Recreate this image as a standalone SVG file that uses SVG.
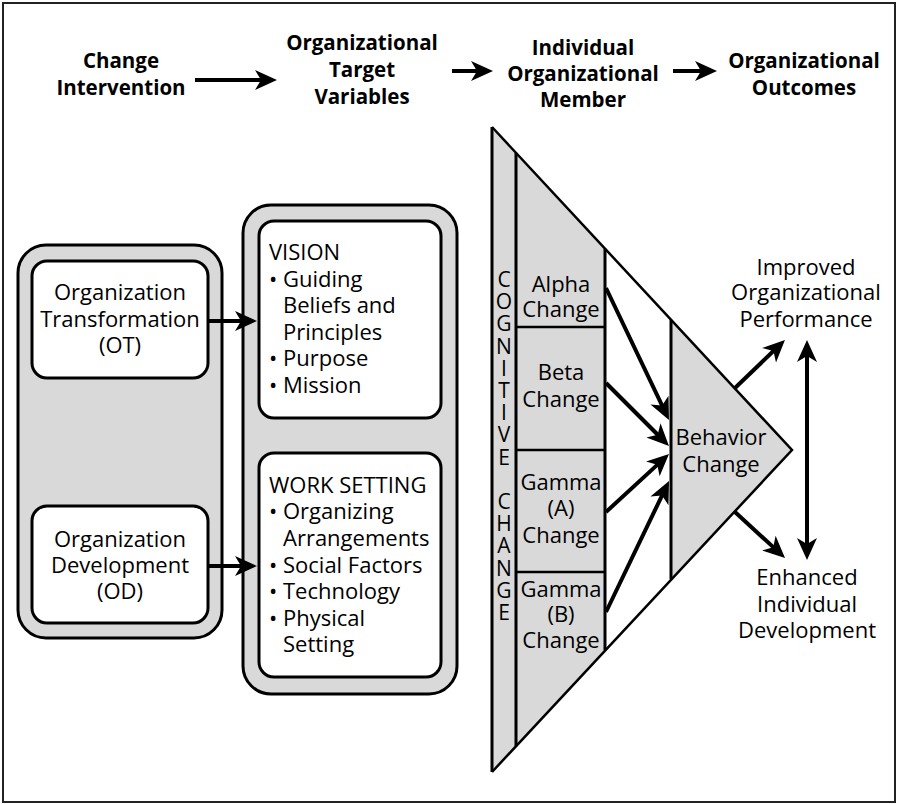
<svg xmlns="http://www.w3.org/2000/svg" width="897" height="804" viewBox="0 0 897 804">
<style>
.hd{font-family:"Open Sans","Liberation Sans",sans-serif;font-weight:700;font-size:20.5px;text-anchor:middle;fill:#000}
.tx{font-family:"Open Sans","Liberation Sans",sans-serif;font-size:22px;fill:#000}
.c{text-anchor:middle}
.outer{fill:#d9d9d9;stroke:#000;stroke-width:3}
.inner{fill:#fff;stroke:#000;stroke-width:3}
.gray{fill:#d9d9d9;stroke:none}
.edge{stroke:#000;stroke-width:2.5;fill:none}
.vline{stroke:#000;stroke-width:3;fill:none}
.arr{stroke:#000;stroke-width:4;fill:none;marker-end:url(#ah)}
.vert{font-family:"Open Sans","Liberation Sans",sans-serif;font-size:21px;fill:#000;writing-mode:vertical-rl;text-orientation:upright;letter-spacing:-5.8px}
</style>
<defs>
<marker id="ah" markerUnits="userSpaceOnUse" markerWidth="30" markerHeight="26" viewBox="-12 -13 30 26" refX="0" refY="0" orient="auto-start-reverse">
<path d="M12,0 L-10,-10 L-4,0 L-10,10 Z" fill="#000"/>
</marker>
</defs>
<rect x="3" y="3" width="892" height="799" fill="#fff" stroke="#222" stroke-width="2"/>

<g id="header">
<text class="hd"><tspan x="121" y="68">Change</tspan><tspan x="121" y="95">Intervention</tspan></text>
<text class="hd"><tspan x="362" y="50">Organizational</tspan><tspan x="362" y="77">Target</tspan><tspan x="362" y="104">Variables</tspan></text>
<text class="hd"><tspan x="583" y="55">Individual</tspan><tspan x="583" y="81">Organizational</tspan><tspan x="583" y="107">Member</tspan></text>
<text class="hd"><tspan x="804" y="68">Organizational</tspan><tspan x="804" y="95">Outcomes</tspan></text>
</g>

<g id="interventions">
<rect class="outer" x="18" y="245" width="204" height="393" rx="28"/>
</g>
<g id="ot">
<rect class="inner" x="32" y="261" width="176" height="117" rx="15"/>
<text class="tx c"><tspan x="120" y="300">Organization</tspan><tspan x="120" y="327">Transformation</tspan><tspan x="120" y="353">(OT)</tspan></text>
</g>
<g id="od">
<rect class="inner" x="32" y="506" width="176" height="117" rx="15"/>
<text class="tx c"><tspan x="120" y="547">Organization</tspan><tspan x="120" y="573">Development</tspan><tspan x="120" y="599">(OD)</tspan></text>
</g>

<g id="targets">
<rect class="outer" x="243" y="205" width="214" height="489" rx="28"/>
</g>
<g id="vision">
<rect class="inner" x="259" y="221" width="182" height="197" rx="15"/>
<text class="tx">
<tspan x="269" y="260">VISION</tspan>
<tspan x="269" y="287">• Guiding</tspan>
<tspan x="283" y="313">Beliefs and</tspan>
<tspan x="283" y="340">Principles</tspan>
<tspan x="269" y="366">• Purpose</tspan>
<tspan x="269" y="393">• Mission</tspan>
</text>
</g>
<g id="worksetting">
<rect class="inner" x="259" y="453" width="182" height="224" rx="15"/>
<text class="tx">
<tspan x="269" y="493">WORK SETTING</tspan>
<tspan x="269" y="519">• Organizing</tspan>
<tspan x="283" y="546">Arrangements</tspan>
<tspan x="269" y="573">• Social Factors</tspan>
<tspan x="269" y="599">• Technology</tspan>
<tspan x="269" y="626">• Physical</tspan>
<tspan x="283" y="652">Setting</tspan>
</text>
</g>

<g id="member">
<polygon points="492,127 792,450 492,772" fill="#fff" stroke="none"/>
<polygon class="gray" points="492,127 605,248.7 605,650.3 492,772"/>
<line class="vline" x1="492" y1="127" x2="492" y2="772"/>
<line class="vline" x1="516" y1="152.8" x2="516" y2="746.2"/>
<line class="vline" x1="605" y1="248.7" x2="605" y2="650.3"/>
<line class="edge" x1="516" y1="327" x2="605" y2="327"/>
<line class="edge" x1="516" y1="450" x2="605" y2="450"/>
<line class="edge" x1="516" y1="572" x2="605" y2="572"/>
<text class="vert" x="504" y="265">COGNITIVE CHANGE</text>
</g>
<g id="alpha"><text class="tx c"><tspan x="561" y="292">Alpha</tspan><tspan x="561" y="317">Change</tspan></text></g>
<g id="beta"><text class="tx c"><tspan x="561" y="380">Beta</tspan><tspan x="561" y="407">Change</tspan></text></g>
<g id="gammaA"><text class="tx c"><tspan x="561" y="490">Gamma</tspan><tspan x="561" y="516">(A)</tspan><tspan x="561" y="543">Change</tspan></text></g>
<g id="gammaB"><text class="tx c"><tspan x="561" y="597">Gamma</tspan><tspan x="561" y="622">(B)</tspan><tspan x="561" y="648">Change</tspan></text></g>

<g id="behavior">
<polygon class="gray" points="671,319.7 792,450 671,579.3"/>
<line class="vline" x1="671" y1="319.7" x2="671" y2="579.3"/>
<text class="tx c"><tspan x="721" y="445">Behavior</tspan><tspan x="721" y="472">Change</tspan></text>
</g>
<g id="bigtriangle-edges">
<polyline class="edge" points="492,127 792,450 492,772"/>
</g>

<g id="outcomes">
<text class="tx c"><tspan x="806" y="275">Improved</tspan><tspan x="806" y="300">Organizational</tspan><tspan x="806" y="327">Performance</tspan></text>
<text class="tx c"><tspan x="807" y="585">Enhanced</tspan><tspan x="807" y="612">Individual</tspan><tspan x="807" y="638">Development</tspan></text>
</g>

<g id="connectors">
<line class="arr" x1="195" y1="80" x2="265" y2="80"/>
<line class="arr" x1="452" y1="71" x2="481" y2="71"/>
<line class="arr" x1="673" y1="71" x2="705" y2="71"/>
<line class="arr" x1="208" y1="321" x2="245" y2="321"/>
<line class="arr" x1="208" y1="566" x2="245" y2="566"/>
<line class="arr" x1="606" y1="288" x2="663.8" y2="409.2"/>
<line class="arr" x1="606" y1="383" x2="660.5" y2="437.5"/>
<line class="arr" x1="606" y1="512" x2="660.2" y2="462.1"/>
<line class="arr" x1="606" y1="612" x2="663.8" y2="491.8"/>
<line class="arr" x1="735" y1="388" x2="776.3" y2="348.3"/>
<line class="arr" x1="735" y1="512" x2="776.2" y2="549.9"/>
<line class="arr" x1="807" y1="352" x2="807" y2="548" style="marker-start:url(#ah)"/>
</g>
</svg>
